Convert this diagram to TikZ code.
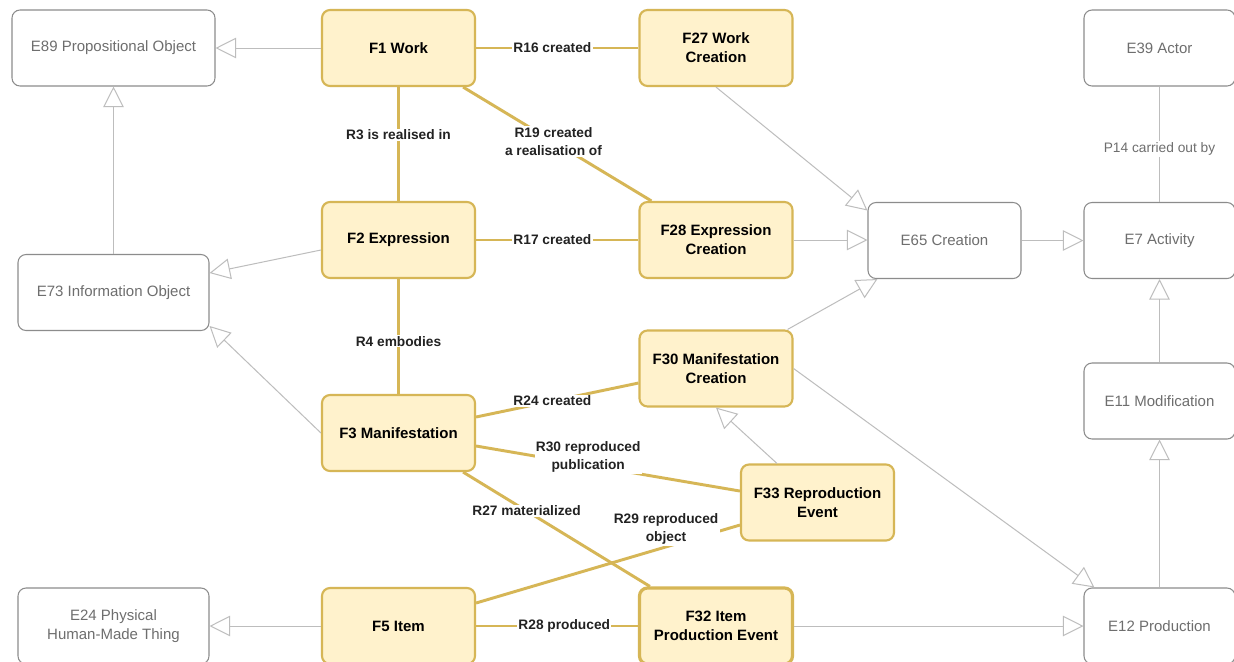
\documentclass[tikz,border=0pt]{standalone}
\usepackage{fontspec}
\setmainfont{Liberation Sans}
\usetikzlibrary{arrows.meta}
\definecolor{gold}{HTML}{D6B656}
\definecolor{goldfill}{HTML}{FFF2CC}
\definecolor{eborder}{HTML}{8C8C8C}
\definecolor{etext}{HTML}{6E6E6E}
\definecolor{genline}{HTML}{BDBDBD}
\definecolor{reltext}{HTML}{222222}
\begin{document}
\begin{tikzpicture}[x=0.75pt,y=-0.75pt,
 ebox/.style={draw=eborder, line width=0.8pt, rounded corners=6pt, text=etext, font=\fontsize{11.25}{14.25}\selectfont, align=center, minimum height=57pt, inner sep=0pt},
 fbox/.style={draw=gold, fill=goldfill, line width=1.6pt, rounded corners=6pt, text=black, font=\fontsize{11.25}{14.25}\selectfont\bfseries, align=center, minimum width=114.75pt, minimum height=57pt, inner sep=0pt},
 gen/.style={draw=genline, line width=0.75pt, -{Triangle[open, length=15.5pt, width=15.5pt]}},
 rel/.style={draw=gold, line width=2.2pt},
 rlab/.style={fill=white, inner sep=1pt, text=reltext, font=\fontsize{10.3}{13.5}\selectfont\bfseries, align=center},
 plab/.style={fill=white, inner sep=1pt, text=etext, font=\fontsize{10.3}{13.5}\selectfont, align=center}
]
\useasboundingbox[fill=white] (0,0) rectangle (1234,661);

% nodes
\node[ebox, minimum width=152.25pt] (E89) at (113.5,48) {E89 Propositional Object};
\node[fbox] (F1) at (398.5,48) {F1 Work};
\node[fbox] (F27) at (716,48) {F27 Work\\Creation};
\node[ebox, minimum width=113.25pt] (E39) at (1159.5,48) {E39 Actor};
\node[ebox, minimum width=143.25pt] (E73) at (113.5,292.5) {E73 Information Object};
\node[fbox] (F2) at (398.5,240) {F2 Expression};
\node[fbox] (F28) at (716,240) {F28 Expression\\Creation};
\node[ebox, minimum width=114.75pt] (E65) at (944.5,240.5) {E65 Creation};
\node[ebox, minimum width=113.25pt] (E7) at (1159.5,240.5) {E7 Activity};
\node[fbox] (F30) at (716,368.5) {F30 Manifestation\\Creation};
\node[ebox, minimum width=113.25pt] (E11) at (1159.5,401) {E11 Modification};
\node[fbox] (F3) at (398.5,433) {F3 Manifestation};
\node[fbox] (F33) at (817.5,502.5) {F33 Reproduction\\Event};
\node[ebox, minimum width=143.25pt] (E24) at (113.5,626) {E24 Physical\\Human-Made Thing};
\node[fbox] (F5) at (398.5,626) {F5 Item};
\node[fbox, line width=2.4pt] (F32) at (716,626) {F32 Item\\Production Event};
\node[ebox, minimum width=113.25pt] (E12) at (1159.5,626) {E12 Production};

% generalisation arrows
\draw[gen] (F1.west) -- (E89.east);
\draw[gen] (E73.north) -- (E89.south);
\draw[gen] ([yshift=-7.5pt]F2.west) -- ([yshift=14.6pt]E73.east);
\draw[gen] (F3.west) -- ([yshift=-25.1pt]E73.east);
\draw[gen] (F5.west) -- (F5.west -| E24.east);
\draw[gen] (F27.south) -- ([yshift=22.5pt]E65.west);
\draw[gen] (F28.east) -- (F28.east -| E65.west);
\draw[gen] ([xshift=-4.5pt]F30.north east) -- ([xshift=7.5pt]E65.south west);
\draw[gen] (E65.east) -- (E7.west);
\draw[gen] (E11.north) -- (E7.south);
\draw[gen] (E12.north) -- (E11.south);
\draw[gen] ([xshift=-30.4pt]F33.north) -- (F30.south);
\draw[gen] (F30.east) -- ([xshift=8.25pt]E12.north west);
\draw[gen] (F32.east) -- (F32.east -| E12.west);
\draw[draw=genline, line width=0.75pt] (E39.south) -- node[plab, pos=0.54]{P14 carried out by} (E7.north);

% relations
\draw[rel] (F1.east) -- node[rlab, pos=0.47]{R16 created} (F27.west);
\draw[rel] ([xshift=-9.75pt]F1.south east) -- node[rlab, pos=0.48]{R19 created\\a realisation of} ([xshift=9.75pt]F28.north west);
\draw[rel] (F1.south) -- node[rlab, pos=0.42]{R3 is realised in} (F2.north);
\draw[rel] (F2.east) -- node[rlab, pos=0.47]{R17 created} (F28.west);
\draw[rel] (F2.south) -- node[rlab, pos=0.54]{R4 embodies} (F3.north);
\draw[rel] ([yshift=12pt]F3.east) -- node[rlab, pos=0.47]{R24 created} ([yshift=-10.9pt]F30.west);
\draw[rel] ([yshift=-9.75pt]F3.east) -- node[rlab, pos=0.425, yshift=6pt]{R30 reproduced\\publication} ([yshift=8.6pt]F33.west);
\draw[rel] ([xshift=-9.75pt]F3.south east) -- node[rlab, pos=0.34]{R27 materialized} ([xshift=9pt]F32.north west);
\draw[rel] ([yshift=17.25pt]F5.east) -- node[rlab, pos=0.72, yshift=13.5pt]{R29 reproduced\\object} ([yshift=-16.9pt]F33.west);
\draw[rel] (F5.east) -- node[rlab, pos=0.545]{R28 produced} (F32.west);
\end{tikzpicture}
\end{document}
